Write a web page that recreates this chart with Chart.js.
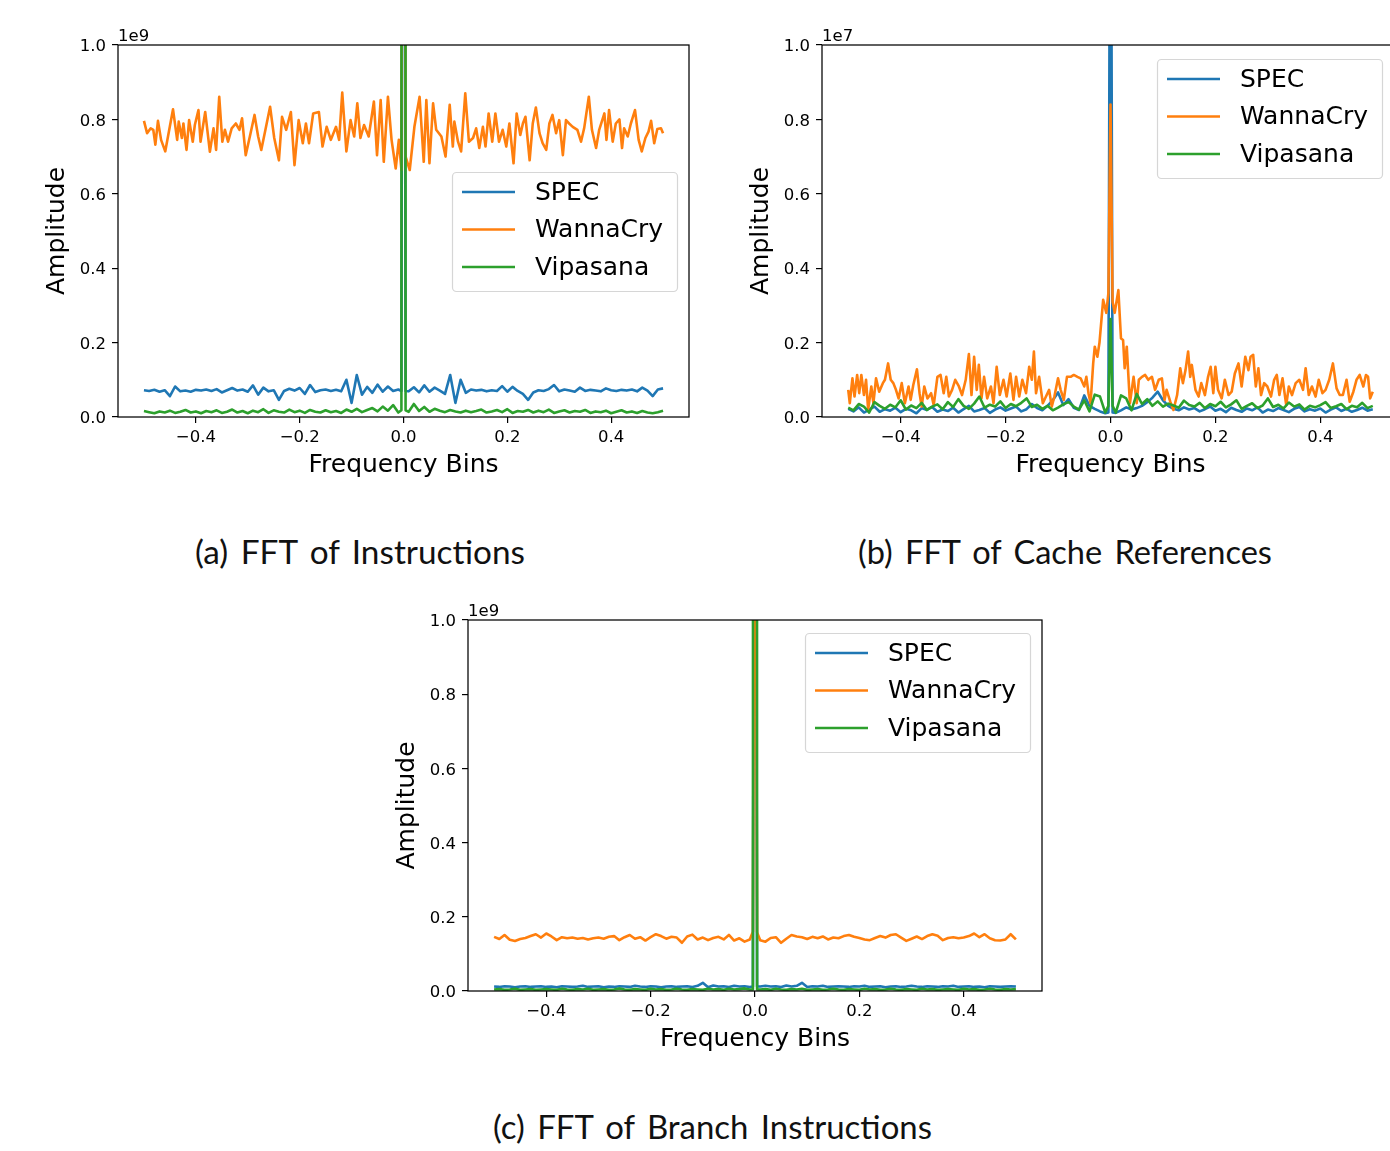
<!DOCTYPE html>
<html><head><meta charset="utf-8">
<script src="https://cdn.jsdelivr.net/npm/chart.js@4.4.0/dist/chart.umd.min.js"></script>
<style>
html,body{margin:0;padding:0;background:#fff;width:1390px;height:1151px;overflow:hidden;position:relative}
canvas{position:absolute}
.cap{position:absolute;font-family:Lato,'Open Sans',sans-serif;font-weight:400;color:#111;white-space:nowrap;line-height:1;word-spacing:0.12em}
</style></head><body>
<canvas id="cA"></canvas><canvas id="cB"></canvas><canvas id="cC"></canvas>
<div class="cap" id="capA">(a) FFT of Instructions</div>
<div class="cap" id="capB">(b) FFT of Cache References</div>
<div class="cap" id="capC">(c) FFT of Branch Instructions</div>
<script>
// ---------- data ----------
const seriesLabels = ['SPEC', 'WannaCry', 'Vipasana'];
const seriesColors = ['#1f77b4', '#ff7f0e', '#2ca02c'];
const xTicks = [-0.4, -0.2, 0, 0.2, 0.4];
const yTicks = [0, 0.2, 0.4, 0.6, 0.8, 1.0];
const xRange = [-0.55, 0.55];
const yRange = [0, 1];

// (a) Instructions, unit 1e9
const instrWannaCry = [[-0.500,0.796],[-0.494,0.763],[-0.487,0.776],[-0.482,0.772],[-0.478,0.732],[-0.473,0.796],[-0.467,0.745],[-0.459,0.714],[-0.452,0.767],[-0.444,0.827],
[-0.436,0.745],[-0.433,0.794],[-0.427,0.750],[-0.424,0.789],[-0.418,0.718],[-0.413,0.798],[-0.406,0.740],[-0.402,0.785],[-0.395,0.825],[-0.391,0.740],
[-0.382,0.820],[-0.373,0.713],[-0.366,0.776],[-0.361,0.718],[-0.355,0.861],[-0.349,0.740],[-0.344,0.772],[-0.338,0.740],[-0.331,0.776],[-0.323,0.789],
[-0.316,0.772],[-0.311,0.803],[-0.304,0.704],[-0.296,0.754],[-0.287,0.812],[-0.280,0.754],[-0.274,0.718],[-0.266,0.772],[-0.257,0.834],[-0.249,0.750],
[-0.240,0.690],[-0.234,0.807],[-0.226,0.772],[-0.217,0.820],[-0.210,0.677],[-0.202,0.798],[-0.194,0.736],[-0.188,0.789],[-0.182,0.736],[-0.174,0.816],
[-0.163,0.820],[-0.156,0.727],[-0.148,0.780],[-0.140,0.745],[-0.130,0.780],[-0.124,0.745],[-0.118,0.872],[-0.110,0.714],[-0.102,0.798],[-0.095,0.754],
[-0.089,0.843],[-0.083,0.750],[-0.076,0.785],[-0.067,0.754],[-0.057,0.848],[-0.051,0.704],[-0.044,0.852],[-0.038,0.686],[-0.030,0.861],[-0.023,0.745],
[-0.015,0.668],[-0.009,0.745],[-0.004,0.664],[0,3.0],[0.004,0.700],[0.012,0.664],[0.021,0.780],[0.031,0.861],[0.039,0.686],[0.044,0.852],
[0.050,0.682],[0.057,0.843],[0.063,0.772],[0.073,0.754],[0.081,0.700],[0.089,0.839],[0.095,0.727],[0.098,0.794],[0.105,0.740],[0.111,0.714],
[0.119,0.870],[0.126,0.740],[0.134,0.750],[0.140,0.776],[0.146,0.723],[0.153,0.780],[0.158,0.727],[0.164,0.816],[0.171,0.740],[0.177,0.816],
[0.184,0.740],[0.191,0.772],[0.198,0.727],[0.204,0.789],[0.212,0.682],[0.218,0.816],[0.225,0.758],[0.230,0.789],[0.235,0.807],[0.243,0.690],
[0.249,0.789],[0.255,0.832],[0.262,0.763],[0.268,0.736],[0.275,0.718],[0.281,0.789],[0.287,0.812],[0.294,0.763],[0.300,0.798],[0.307,0.704],
[0.313,0.798],[0.319,0.789],[0.326,0.780],[0.335,0.772],[0.342,0.740],[0.348,0.776],[0.357,0.861],[0.363,0.772],[0.371,0.723],[0.377,0.772],
[0.387,0.816],[0.391,0.745],[0.396,0.825],[0.403,0.740],[0.409,0.789],[0.416,0.800],[0.421,0.723],[0.425,0.776],[0.432,0.754],[0.438,0.789],
[0.446,0.825],[0.453,0.745],[0.459,0.714],[0.466,0.750],[0.472,0.767],[0.477,0.796],[0.483,0.736],[0.489,0.774],[0.496,0.776],[0.500,0.763]];

// uniform series: 50 bins from -0.50 to -0.01, three bins around 0, 50 bins from 0.01 to 0.50
const instrSpec = [0.072,0.070,0.073,0.068,0.072,0.056,0.082,0.069,0.071,0.068, 0.073,0.071,0.074,0.070,0.075,0.066,0.072,0.078,0.071,0.074,
0.068,0.085,0.060,0.079,0.069,0.072,0.046,0.070,0.076,0.071, 0.078,0.062,0.086,0.067,0.072,0.074,0.070,0.073,0.069,0.100,
0.038,0.113,0.060,0.081,0.065,0.087,0.068,0.082,0.070,0.074,
0.070,4.0,0.070,
0.069,0.080,0.066,0.085,0.068,0.079,0.071,0.062,0.113,0.038, 0.100,0.065,0.074,0.071,0.073,0.069,0.072,0.070,0.083,0.068,
0.081,0.070,0.062,0.046,0.066,0.072,0.070,0.075,0.086,0.069, 0.074,0.071,0.068,0.079,0.070,0.073,0.071,0.069,0.077,0.072,
0.070,0.073,0.071,0.074,0.069,0.079,0.071,0.056,0.074,0.077];
const instrVipasana = [0.016,0.013,0.010,0.015,0.012,0.017,0.011,0.014,0.019,0.012, 0.015,0.010,0.016,0.013,0.018,0.011,0.014,0.020,0.012,0.016,
0.010,0.017,0.013,0.021,0.011,0.018,0.014,0.012,0.020,0.013, 0.017,0.011,0.019,0.014,0.012,0.018,0.013,0.016,0.011,0.020,
0.014,0.022,0.013,0.019,0.024,0.015,0.028,0.017,0.032,0.012,
0.018,30,0.018,
0.014,0.035,0.016,0.027,0.014,0.022,0.017,0.013,0.019,0.015, 0.012,0.017,0.013,0.016,0.020,0.012,0.015,0.019,0.013,0.021,
0.011,0.016,0.014,0.019,0.012,0.017,0.013,0.020,0.011,0.015, 0.018,0.012,0.016,0.014,0.019,0.011,0.015,0.013,0.017,0.010,
0.014,0.018,0.012,0.015,0.011,0.016,0.012,0.010,0.013,0.017];

// (b) Cache references, unit 1e7
const cacheWannaCry = [[-0.500,0.073],[-0.497,0.037],[-0.492,0.104],[-0.488,0.055],[-0.483,0.113],[-0.479,0.064],[-0.475,0.113],[-0.470,0.059],[-0.466,0.100],[-0.462,0.019],
[-0.456,0.082],[-0.452,0.037],[-0.447,0.104],[-0.441,0.068],[-0.434,0.091],[-0.430,0.100],[-0.424,0.144],[-0.419,0.100],[-0.414,0.091],[-0.409,0.073],
[-0.404,0.050],[-0.398,0.091],[-0.392,0.037],[-0.385,0.082],[-0.381,0.046],[-0.376,0.086],[-0.369,0.128],[-0.364,0.064],[-0.360,0.028],[-0.355,0.082],
[-0.349,0.050],[-0.342,0.064],[-0.337,0.032],[-0.330,0.108],[-0.324,0.113],[-0.318,0.064],[-0.313,0.108],[-0.308,0.055],[-0.302,0.073],[-0.296,0.100],
[-0.289,0.082],[-0.283,0.059],[-0.276,0.100],[-0.270,0.169],[-0.265,0.059],[-0.260,0.162],[-0.255,0.073],[-0.251,0.140],[-0.246,0.050],[-0.241,0.108],
[-0.235,0.050],[-0.228,0.082],[-0.223,0.037],[-0.217,0.135],[-0.211,0.059],[-0.204,0.100],[-0.198,0.055],[-0.191,0.117],[-0.185,0.046],[-0.180,0.108],
[-0.174,0.055],[-0.168,0.100],[-0.161,0.064],[-0.155,0.135],[-0.150,0.100],[-0.146,0.176],[-0.142,0.064],[-0.136,0.108],[-0.129,0.037],[-0.123,0.055],
[-0.117,0.073],[-0.112,0.028],[-0.107,0.055],[-0.100,0.104],[-0.095,0.073],[-0.089,0.046],[-0.083,0.108],[-0.076,0.108],[-0.070,0.113],[-0.063,0.108],
[-0.057,0.104],[-0.050,0.082],[-0.046,0.108],[-0.042,0.064],[-0.038,0.037],[-0.033,0.144],[-0.030,0.189],[-0.025,0.162],[-0.021,0.200],[-0.014,0.315],
[-0.008,0.280],[-0.004,0.333],[0,0.840],[0.004,0.310],[0.008,0.280],[0.015,0.341],[0.020,0.211],[0.024,0.207],[0.027,0.131],[0.031,0.189],
[0.037,0.037],[0.044,0.108],[0.050,0.037],[0.054,0.100],[0.060,0.108],[0.066,0.113],[0.072,0.100],[0.079,0.108],[0.085,0.073],[0.092,0.100],
[0.098,0.104],[0.103,0.046],[0.107,0.073],[0.114,0.041],[0.120,0.019],[0.127,0.059],[0.133,0.131],[0.138,0.091],[0.143,0.126],[0.148,0.176],
[0.152,0.108],[0.155,0.140],[0.162,0.073],[0.168,0.055],[0.173,0.091],[0.180,0.059],[0.186,0.108],[0.191,0.135],[0.196,0.064],[0.200,0.135],
[0.205,0.073],[0.212,0.050],[0.218,0.100],[0.225,0.059],[0.231,0.068],[0.237,0.117],[0.244,0.144],[0.250,0.082],[0.257,0.162],[0.263,0.126],
[0.267,0.162],[0.272,0.167],[0.277,0.082],[0.282,0.131],[0.287,0.059],[0.293,0.091],[0.299,0.082],[0.306,0.055],[0.312,0.100],[0.317,0.113],
[0.322,0.059],[0.328,0.104],[0.335,0.032],[0.340,0.082],[0.346,0.059],[0.353,0.091],[0.360,0.100],[0.367,0.073],[0.372,0.131],[0.378,0.059],
[0.384,0.082],[0.391,0.055],[0.397,0.100],[0.404,0.064],[0.410,0.073],[0.417,0.100],[0.424,0.144],[0.431,0.077],[0.437,0.059],[0.443,0.059],
[0.450,0.100],[0.456,0.041],[0.463,0.068],[0.469,0.100],[0.475,0.113],[0.482,0.082],[0.487,0.113],[0.491,0.108],[0.495,0.050],[0.500,0.068]];
const cacheSpec = [0.022,0.015,0.026,0.012,0.020,0.028,0.014,0.021,0.017,0.025, 0.013,0.022,0.018,0.010,0.024,0.019,0.027,0.014,0.020,0.016,
0.025,0.012,0.021,0.030,0.015,0.019,0.024,0.011,0.020,0.026, 0.017,0.023,0.028,0.015,0.021,0.035,0.024,0.018,0.030,0.045,
0.066,0.032,0.048,0.025,0.019,0.058,0.030,0.022,0.015,0.010,
0.012,2.0,0.012,
0.011,0.018,0.026,0.020,0.024,0.030,0.040,0.052,0.068,0.045, 0.030,0.022,0.018,0.026,0.020,0.024,0.015,0.021,0.028,0.017,
0.022,0.013,0.025,0.019,0.014,0.023,0.018,0.026,0.012,0.020, 0.016,0.024,0.019,0.013,0.022,0.027,0.015,0.021,0.017,0.023,
0.012,0.020,0.026,0.016,0.022,0.014,0.019,0.025,0.017,0.021];
const cacheVipasana = [0.025,0.018,0.035,0.028,0.012,0.040,0.030,0.022,0.033,0.026, 0.045,0.020,0.031,0.024,0.038,0.019,0.028,0.034,0.021,0.040,
0.027,0.048,0.030,0.022,0.036,0.055,0.025,0.033,0.028,0.042, 0.024,0.035,0.029,0.038,0.050,0.027,0.033,0.022,0.030,0.018,
0.025,0.034,0.040,0.028,0.020,0.045,0.015,0.060,0.055,0.012,
0.030,0.263,0.030,
0.012,0.058,0.050,0.018,0.062,0.035,0.048,0.030,0.042,0.028, 0.036,0.031,0.025,0.044,0.032,0.028,0.038,0.024,0.035,0.029,
0.041,0.026,0.034,0.045,0.022,0.030,0.037,0.024,0.031,0.050, 0.027,0.033,0.023,0.039,0.028,0.034,0.020,0.030,0.026,0.032,
0.040,0.024,0.029,0.035,0.021,0.030,0.026,0.038,0.024,0.030];

// (c) Branch instructions, unit 1e9
const branchSpec = [0.012,0.011,0.013,0.012,0.010,0.012,0.013,0.011,0.012,0.013, 0.011,0.012,0.010,0.013,0.012,0.011,0.012,0.014,0.011,0.012,
0.013,0.010,0.012,0.011,0.013,0.012,0.011,0.014,0.012,0.011, 0.013,0.012,0.010,0.012,0.013,0.011,0.012,0.013,0.011,0.014,
0.022,0.010,0.015,0.012,0.013,0.011,0.014,0.012,0.013,0.011,
0.012,3.0,0.012,
0.012,0.014,0.012,0.013,0.011,0.015,0.012,0.014,0.022,0.011, 0.013,0.012,0.014,0.011,0.012,0.013,0.012,0.011,0.013,0.012,
0.014,0.011,0.012,0.013,0.010,0.012,0.013,0.011,0.012,0.014, 0.012,0.011,0.013,0.012,0.011,0.013,0.012,0.014,0.011,0.012,
0.013,0.011,0.012,0.010,0.013,0.012,0.011,0.012,0.013,0.012];
const branchWannaCry = [0.146,0.140,0.151,0.138,0.135,0.140,0.143,0.148,0.153,0.144, 0.155,0.147,0.137,0.145,0.142,0.144,0.141,0.143,0.139,0.142,
0.144,0.141,0.146,0.148,0.137,0.145,0.151,0.141,0.145,0.136, 0.145,0.153,0.148,0.141,0.146,0.144,0.130,0.147,0.152,0.139,
0.144,0.137,0.143,0.146,0.139,0.151,0.136,0.142,0.133,0.139,
0.160,2.0,0.158,
0.137,0.133,0.143,0.145,0.130,0.141,0.151,0.147,0.145,0.140, 0.146,0.142,0.147,0.139,0.144,0.142,0.148,0.151,0.146,0.143,
0.139,0.137,0.143,0.148,0.144,0.151,0.153,0.144,0.135,0.141, 0.147,0.140,0.148,0.153,0.149,0.137,0.143,0.145,0.142,0.144,
0.148,0.155,0.145,0.153,0.142,0.137,0.136,0.139,0.153,0.139];
const branchVipasana = [0.004,0.005,0.003,0.004,0.006,0.003,0.004,0.005,0.003,0.004, 0.005,0.004,0.003,0.006,0.004,0.003,0.005,0.004,0.006,0.003,
0.004,0.005,0.003,0.004,0.007,0.004,0.003,0.005,0.004,0.003, 0.006,0.004,0.005,0.003,0.004,0.006,0.004,0.003,0.005,0.004,
0.003,0.006,0.004,0.005,0.003,0.006,0.004,0.005,0.007,0.004,
0.004,30,0.004,
0.004,0.005,0.003,0.006,0.004,0.003,0.005,0.004,0.006,0.003, 0.004,0.005,0.003,0.004,0.006,0.004,0.003,0.005,0.004,0.003,
0.006,0.004,0.005,0.003,0.004,0.006,0.004,0.003,0.005,0.004, 0.003,0.006,0.004,0.005,0.003,0.004,0.005,0.004,0.003,0.006,
0.004,0.005,0.003,0.004,0.006,0.004,0.003,0.005,0.004,0.005];

// ---------- helpers ----------
function binFreqs() {
  const f = [];
  for (let i = 0; i < 50; i++) f.push(+(-0.5 + i * 0.01).toFixed(3));
  f.push(-0.004, 0, 0.004);
  for (let i = 1; i <= 50; i++) f.push(+(i * 0.01).toFixed(3));
  return f;
}
const uniformBins = binFreqs();
const fromUniform = amps => amps.map((a, i) => ({x: uniformBins[i], y: a}));
const fromPairs = pairs => pairs.map(p => ({x: p[0], y: p[1]}));
const fmt = v => (v < 0 ? '\u2212' : '') + Math.abs(v).toFixed(1);

const framePlugin = {
  id: 'frame',
  afterDatasetsDraw(chart) {
    const {ctx, chartArea: a} = chart;
    ctx.save();
    ctx.strokeStyle = '#000'; ctx.lineWidth = 1.25;
    ctx.strokeRect(a.left, a.top, a.right - a.left, a.bottom - a.top);
    ctx.restore();
  },
  afterDraw(chart, args, o) {
    const {ctx, chartArea: a} = chart;
    ctx.save();
    ctx.fillStyle = '#000';
    ctx.font = '16.5px "DejaVu Sans"';
    ctx.textAlign = 'left'; ctx.textBaseline = 'alphabetic';
    ctx.fillText(o.multiplier, a.left, a.top - 4.5);
    // legend
    const bx = a.left + o.legendLeft, by = a.top + o.legendTop, bw = 225, bh = 119;
    ctx.beginPath();
    ctx.roundRect(bx + 0.5, by + 0.5, bw, bh, 4);
    ctx.fillStyle = 'rgba(255,255,255,0.8)'; ctx.fill();
    ctx.strokeStyle = 'rgba(204,204,204,0.8)'; ctx.lineWidth = 1.2; ctx.stroke();
    ctx.font = '25px "DejaVu Sans"';
    ctx.textBaseline = 'middle';
    chart.data.datasets.forEach((ds, i) => {
      const y = by + 20 + i * 37.5;
      ctx.beginPath();
      ctx.moveTo(bx + 10, y); ctx.lineTo(bx + 63, y);
      ctx.strokeStyle = ds.borderColor; ctx.lineWidth = 2.6; ctx.stroke();
      ctx.fillStyle = '#000';
      ctx.fillText(ds.label, bx + 83, y + 1);
    });
    ctx.restore();
  }
};

function makeChart(id, plot, series, multiplier, legendLeft, legendTop) {
  const cv = document.getElementById(id);
  const padL = 110, padT = 30, padR = 15, padB = 80;
  const W = padL + plot.w + padR, H = padT + plot.h + padB;
  cv.width = W; cv.height = H;
  cv.style.left = (plot.l - padL) + 'px'; cv.style.top = (plot.t - padT) + 'px';
  cv.style.width = W + 'px'; cv.style.height = H + 'px';
  const datasets = series.map((d, i) => ({
    label: seriesLabels[i], data: d, borderColor: seriesColors[i], backgroundColor: seriesColors[i],
    borderWidth: 2.6, pointRadius: 0, tension: 0, fill: false, order: 3 - i,
    borderJoinStyle: 'round', borderCapStyle: 'butt'
  }));
  const tickFont = {family: 'DejaVu Sans', size: 16.5};
  const titleFont = {family: 'DejaVu Sans', size: 25};
  new Chart(cv, {
    type: 'line',
    data: {datasets},
    options: {
      responsive: false, animation: false, devicePixelRatio: 1,
      layout: {padding: {left: 0, top: padT, right: padR, bottom: 0}},
      plugins: {legend: {display: false}, tooltip: {enabled: false},
        frame: {multiplier, legendLeft, legendTop}},
      scales: {
        x: {type: 'linear', min: xRange[0], max: xRange[1],
          afterBuildTicks: s => { s.ticks = xTicks.map(v => ({value: v})); },
          afterFit: s => { s.height = padB; },
          grid: {drawOnChartArea: false, drawTicks: true, tickLength: 6, color: '#000', tickColor: '#000', lineWidth: 1.2},
          border: {display: false},
          ticks: {color: '#000', font: tickFont, padding: 5, maxRotation: 0, callback: v => fmt(v)},
          title: {display: true, text: 'Frequency Bins', color: '#000', font: titleFont, padding: {top: 0, bottom: 16.6}}
        },
        y: {type: 'linear', min: yRange[0], max: yRange[1],
          afterBuildTicks: s => { s.ticks = yTicks.map(v => ({value: v})); },
          afterFit: s => { s.width = padL; },
          grid: {drawOnChartArea: false, drawTicks: true, tickLength: 6, color: '#000', tickColor: '#000', lineWidth: 1.2},
          border: {display: false},
          ticks: {color: '#000', font: tickFont, padding: 6, labelOffset: 2, callback: v => v.toFixed(1)},
          title: {display: true, text: 'Amplitude', color: '#000', font: titleFont, padding: {top: 34, bottom: 0}}
        }
      }
    },
    plugins: [framePlugin]
  });
}

makeChart('cA', {l: 118, t: 45, w: 571, h: 372},
  [fromUniform(instrSpec), fromPairs(instrWannaCry), fromUniform(instrVipasana)], '1e9', 334, 127);
makeChart('cB', {l: 822, t: 45, w: 577, h: 372},
  [fromUniform(cacheSpec), fromPairs(cacheWannaCry), fromUniform(cacheVipasana)], '1e7', 335, 14);
makeChart('cC', {l: 468, t: 620, w: 574, h: 371},
  [fromUniform(branchSpec), fromUniform(branchWannaCry), fromUniform(branchVipasana)], '1e9', 337, 13);

function placeCaption(id, cx, cy, targetW) {
  const el = document.getElementById(id);
  el.style.fontSize = '30px';
  const w = el.getBoundingClientRect().width;
  const fs = 30 * targetW / w;
  el.style.fontSize = fs + 'px';
  const r = el.getBoundingClientRect();
  el.style.left = (cx - r.width / 2) + 'px';
  el.style.top = (cy - r.height / 2) + 'px';
}
placeCaption('capA', 360, 552, 330);
placeCaption('capB', 1065, 552, 414);
placeCaption('capC', 712.5, 1126, 439);
</script>
</body></html>
